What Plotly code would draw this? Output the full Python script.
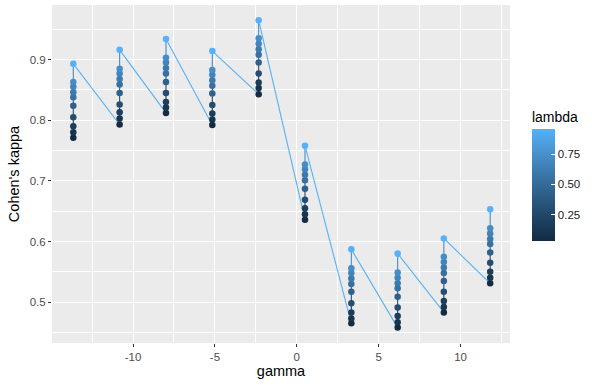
import plotly.graph_objects as go
import numpy as np

gamma = [-13.65, -10.82, -7.99, -5.16, -2.33, 0.50, 3.33, 6.16, 8.98, 11.81]
lam = [0.03, 0.10, 0.17, 0.29, 0.43, 0.54, 0.60, 0.67, 0.73, 0.96]
# kappa per gamma, ordered by lambda ascending
kappa = [
    [0.771, 0.780, 0.790, 0.805, 0.824, 0.838, 0.846, 0.855, 0.863, 0.893],
    [0.793, 0.803, 0.813, 0.826, 0.845, 0.859, 0.868, 0.877, 0.885, 0.916],
    [0.812, 0.821, 0.830, 0.845, 0.863, 0.877, 0.886, 0.895, 0.903, 0.934],
    [0.792, 0.801, 0.811, 0.825, 0.844, 0.857, 0.866, 0.875, 0.883, 0.914],
    [0.843, 0.853, 0.862, 0.877, 0.895, 0.908, 0.917, 0.926, 0.935, 0.965],
    [0.636, 0.645, 0.655, 0.669, 0.687, 0.701, 0.710, 0.719, 0.727, 0.758],
    [0.465, 0.473, 0.483, 0.498, 0.517, 0.530, 0.539, 0.548, 0.556, 0.587],
    [0.458, 0.467, 0.477, 0.491, 0.509, 0.523, 0.531, 0.540, 0.549, 0.580],
    [0.483, 0.492, 0.502, 0.517, 0.535, 0.548, 0.557, 0.566, 0.575, 0.605],
    [0.531, 0.540, 0.550, 0.565, 0.582, 0.596, 0.604, 0.613, 0.622, 0.653],
]
x_ticks = [-10, -5, 0, 5, 10]
y_ticks = [0.5, 0.6, 0.7, 0.8, 0.9]
cbar_ticks = [0.25, 0.50, 0.75]

# ggplot2 default continuous gradient (#132B43 -> #56B1F7) in CIELAB
def srgb_to_lab(h):
    c = np.array([int(h[i:i+2], 16) / 255 for i in (1, 3, 5)])
    c = np.where(c > 0.04045, ((c + 0.055) / 1.055) ** 2.4, c / 12.92)
    M = np.array([[0.4124, 0.3576, 0.1805], [0.2126, 0.7152, 0.0722], [0.0193, 0.1192, 0.9505]])
    xyz = M @ c / np.array([0.95047, 1.0, 1.08883])
    f = np.where(xyz > 0.008856, np.cbrt(xyz), 7.787 * xyz + 16 / 116)
    return np.array([116 * f[1] - 16, 500 * (f[0] - f[1]), 200 * (f[1] - f[2])])

def lab_to_hex(lab):
    L, a, b = lab
    fy = (L + 16) / 116
    fx = fy + a / 500
    fz = fy - b / 200
    f = np.array([fx, fy, fz])
    xyz = np.where(f ** 3 > 0.008856, f ** 3, (f - 16 / 116) / 7.787) * np.array([0.95047, 1.0, 1.08883])
    Mi = np.array([[3.2406, -1.5372, -0.4986], [-0.9689, 1.8758, 0.0415], [0.0557, -0.2040, 1.0570]])
    c = Mi @ xyz
    c = np.where(c > 0.0031308, 1.055 * np.clip(c, 0, None) ** (1 / 2.4) - 0.055, 12.92 * c)
    c = np.clip(c, 0, 1)
    return "#%02x%02x%02x" % tuple(int(round(v * 255)) for v in c)

lo, hi = srgb_to_lab("#132B43"), srgb_to_lab("#56B1F7")
cscale = [[t, lab_to_hex(lo + (hi - lo) * t)] for t in np.linspace(0, 1, 11)]
lmin, lmax = min(lam), max(lam)

def col(v):
    t = (v - lmin) / (lmax - lmin)
    return lab_to_hex(lo + (hi - lo) * t)

fig = go.Figure()

# vertical segments within each gamma, coloured by lower point's lambda
for k in range(len(lam) - 1):
    xs, ys = [], []
    for gi, g in enumerate(gamma):
        xs += [g, g, None]
        ys += [kappa[gi][k], kappa[gi][k + 1], None]
    fig.add_trace(go.Scatter(x=xs, y=ys, mode="lines", line=dict(color=col(lam[k]), width=1.1),
                             hoverinfo="skip", showlegend=False))
# diagonal segments from top of one gamma to bottom of next
xs, ys = [], []
for gi in range(len(gamma) - 1):
    xs += [gamma[gi], gamma[gi + 1], None]
    ys += [kappa[gi][-1], kappa[gi + 1][0], None]
fig.add_trace(go.Scatter(x=xs, y=ys, mode="lines", line=dict(color=col(lmax), width=1.1),
                         hoverinfo="skip", showlegend=False))

px_, py_, pc_ = [], [], []
for gi, g in enumerate(gamma):
    for k, l in enumerate(lam):
        px_.append(g); py_.append(kappa[gi][k]); pc_.append(l)
fig.add_trace(go.Scatter(
    x=px_, y=py_, mode="markers", showlegend=False,
    marker=dict(size=6.5, color=pc_, colorscale=cscale, cmin=lmin, cmax=lmax, showscale=True,
                line=dict(width=0),
                colorbar=dict(
                    title=dict(text="lambda", side="top", font=dict(size=14, color="black")),
                    x=1.048, xanchor="left", y=(343 - 241) / 338, yanchor="bottom",
                    len=133, lenmode="pixels", thickness=23, thicknessmode="pixels",
                    outlinewidth=0, tickvals=cbar_ticks, ticktext=["0.25", "0.50", "0.75"],
                    ticks="inside", ticklen=4, tickcolor="white", tickwidth=1,
                    tickfont=dict(size=11.5, color="#1a1a1a"), xpad=0, ypad=0,
                ))))

fig.update_layout(
    width=601, height=388,
    margin=dict(l=52, r=91, t=5, b=45, autoexpand=False),
    paper_bgcolor="white", plot_bgcolor="#EBEBEB",
    font=dict(family="Liberation Sans, Arial, sans-serif"),
)
fig.update_xaxes(
    range=[-14.95, 13.02], tickvals=x_ticks, ticktext=[str(v) for v in x_ticks],
    showgrid=True, gridcolor="white", gridwidth=1.1, zeroline=False, showline=False,
    ticks="outside", ticklen=3, tickcolor="#333333", tickwidth=1, automargin=False,
    tickfont=dict(size=11.5, color="#4D4D4D"),
    minor=dict(showgrid=True, gridcolor="white", gridwidth=0.5, tickvals=[-12.5, -7.5, -2.5, 2.5, 7.5, 12.5]),
    title=dict(text="gamma", font=dict(size=14.5, color="black"), standoff=4),
)
fig.update_yaxes(
    range=[0.4326, 0.990], tickvals=y_ticks, ticktext=[str(v) for v in y_ticks],
    showgrid=True, gridcolor="white", gridwidth=1.1, zeroline=False, showline=False,
    ticks="outside", ticklen=3, tickcolor="#333333", tickwidth=1, automargin=False,
    tickfont=dict(size=11.5, color="#4D4D4D"),
    minor=dict(showgrid=True, gridcolor="white", gridwidth=0.5, tickvals=[0.45, 0.55, 0.65, 0.75, 0.85, 0.95]),
    title=dict(text="Cohen's kappa", font=dict(size=14.5, color="black"), standoff=6),
)
fig.write_html("out.html", config={"displayModeBar": False},
               post_script="document.body.style.margin='0px';")
